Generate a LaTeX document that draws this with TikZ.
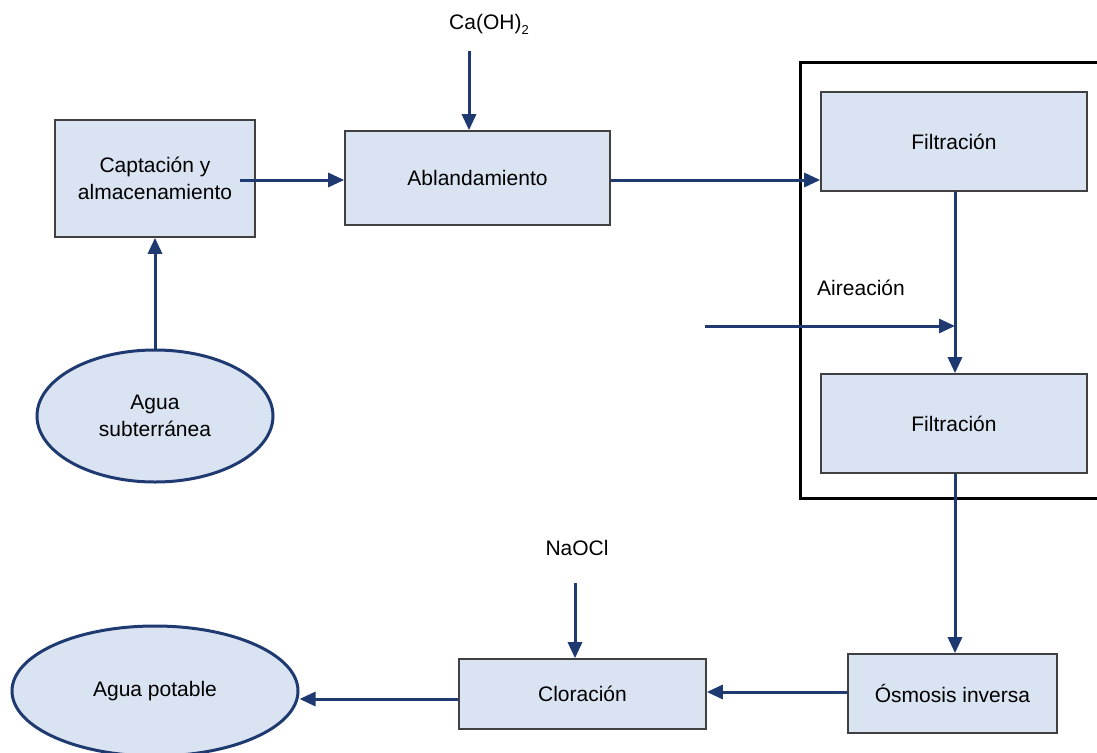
\documentclass[tikz,border=0pt]{standalone}
\usepackage{fontspec}
\setmainfont{Liberation Sans}
\usetikzlibrary{arrows.meta,shapes.geometric}
\definecolor{boxfill}{HTML}{DAE3F1}
\definecolor{navy}{HTML}{1F3A70}
\definecolor{boxline}{HTML}{404040}
\begin{document}
\begin{tikzpicture}[x=1pt,y=-1pt,
  font=\fontsize{21}{27}\selectfont,
  proc/.style={draw=boxline,line width=1.6pt,fill=boxfill,align=center,inner sep=0pt},
  oval/.style={ellipse,draw=navy,line width=3pt,fill=boxfill,align=center,inner sep=0pt},
  flow/.style={draw=navy,line width=3pt,-{Triangle[length=16pt,width=14pt]}},
  lbl/.style={inner sep=0pt}]
\useasboundingbox (0,0) rectangle (1097,752);
\clip (0,0) rectangle (1097,752);
% frame
\draw[line width=3pt] (800,63) rectangle (1120,498);
% nodes
\node[proc,minimum width=200pt,minimum height=117pt] (cap) at (155,178.5) {Captación y\\almacenamiento};
\node[proc,minimum width=265pt,minimum height=94pt] (abl) at (477.5,178) {Ablandamiento};
\node[proc,minimum width=266pt,minimum height=99pt] (f1) at (954,141.5) {Filtración};
\node[proc,minimum width=266pt,minimum height=99pt] (f2) at (954,423.5) {Filtración};
\node[proc,minimum width=209pt,minimum height=79pt] (osm) at (952.5,693.5) {Ósmosis inversa};
\node[proc,minimum width=247pt,minimum height=70pt] (clo) at (582.5,694) {Cloración};
\node[oval,minimum width=236pt,minimum height=132pt] (sub) at (155,416) {Agua\\subterránea};
\node[oval,minimum width=286pt,minimum height=130pt] (pot) at (155,691) {Agua potable};
\node[lbl] (caoh) at (489,24) {Ca(OH)\raisebox{-5pt}{\fontsize{13}{13}\selectfont 2}};
\node[lbl] (aire) at (861,288) {Aireación};
\node[lbl] (naocl) at (577,548) {NaOCl};
\coordinate (caohs) at (469,51);
\coordinate (capo) at (240,180);
\coordinate (airs) at (705,326);
\coordinate (aire2) at (955,326);
\coordinate (naos) at (575,583);
% connectors
\draw[flow] (capo) -- (abl.west |- capo);
\draw[flow] (sub.north) -- (cap.south);
\draw[flow] (caohs) -- (caohs |- abl.north);
\draw[flow] (abl.east |- 0,180) -- (f1.west |- 0,180);
\draw[flow] (f1.south -| aire2) -- (f2.north -| aire2);
\draw[flow] (airs) -- (aire2);
\draw[flow] (f2.south -| aire2) -- (osm.north -| aire2);
\draw[flow] (naos) -- (naos |- clo.north);
\draw[flow] (osm.west |- 0,692) -- (clo.east |- 0,692);
\draw[flow] (clo.west |- 0,699) -- (pot.east |- 0,699);
\end{tikzpicture}
\end{document}
